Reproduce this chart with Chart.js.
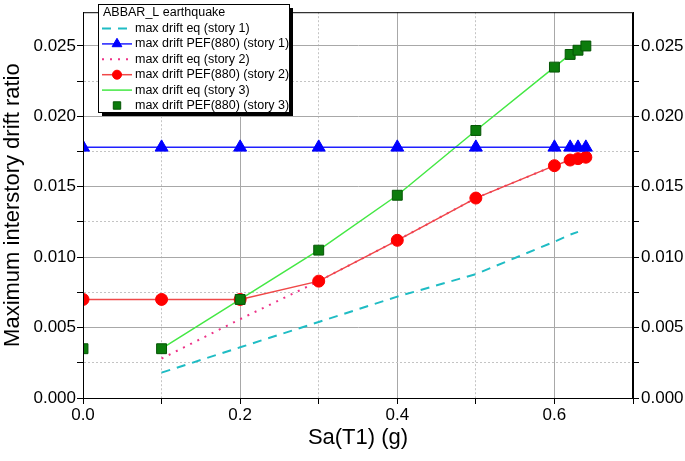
<!DOCTYPE html>
<html>
<head>
<meta charset="utf-8">
<script src="https://cdn.jsdelivr.net/npm/chart.js@4"></script>
<style>
  html, body { margin: 0; padding: 0; background: #fff; }
  #wrap { width: 685px; height: 461px; }
</style>
</head>
<body>
<div id="wrap"><canvas id="driftChart" width="685" height="461"></canvas></div>
<script>
// Data
const saPef = [0, 0.1, 0.2, 0.3, 0.4, 0.5, 0.6, 0.62, 0.63, 0.64];
const saEq = [0.1, 0.2, 0.3, 0.4, 0.5, 0.6, 0.62, 0.63, 0.64];

const eqStory1 = [0.0018, 0.0036, 0.0054, 0.0072, 0.0088, 0.0111, 0.0116, 0.0118, null];
const pefStory1 = [0.0178, 0.0178, 0.0178, 0.0178, 0.0178, 0.0178, 0.0178, 0.0178, 0.0178, 0.0178];
const eqStory2 = [0.0028, 0.0056, 0.0083, 0.0112, 0.0142, 0.0165, 0.0169, 0.0170, 0.0171];
const pefStory2 = [0.0070, 0.0070, 0.0070, 0.0083, 0.0112, 0.0142, 0.0165, 0.0169, 0.0170, 0.0171];
const eqStory3 = [0.0035, 0.0070, 0.0105, 0.0144, 0.0190, 0.0235, 0.0244, 0.0247, 0.0250];
const pefStory3 = [0.0035, 0.0035, 0.0070, 0.0105, 0.0144, 0.0190, 0.0235, 0.0244, 0.0247, 0.0250];

const seriesNames = [
    'max drift eq (story 1)',
    'max drift PEF(880) (story 1)',
    'max drift eq (story 2)',
    'max drift PEF(880) (story 2)',
    'max drift eq (story 3)',
    'max drift PEF(880) (story 3)'
];
const legendTitle = 'ABBAR_L earthquake';
const xTicks = [0, 0.1, 0.2, 0.3, 0.4, 0.5, 0.6, 0.7];
const yTicks = [0, 0.0025, 0.005, 0.0075, 0.01, 0.0125, 0.015, 0.0175, 0.02, 0.0225, 0.025];

const FONT = "'Liberation Sans', Arial, sans-serif";

function pairs(xs, ys) {
    return xs.map((x, i) => ({ x: x, y: ys[i] }));
}

const isMajorX = v => Math.round(v * 10) % 2 === 0;
const isMajorY = v => Math.abs(v / 0.005 - Math.round(v / 0.005)) < 1e-6;

// grid styling shared by both directions
function gridColor(major) {
    return ctx => (ctx.tick && !major(ctx.tick.value)) ? '#c4c4c4' : '#a8a8a8';
}
function gridDash(major) {
    return ctx => (ctx.tick && !major(ctx.tick.value)) ? [2, 2] : [];
}

// frame + legend drawn on top of the plot
const framePlugin = {
    id: 'frameAndLegend',
    afterDraw(chart) {
        const { ctx, chartArea: a } = chart;
        ctx.save();
        ctx.strokeStyle = '#000';
        ctx.lineWidth = 1;
        ctx.strokeRect(a.left + 0.5, a.top + 0.5, a.right - a.left - 1, a.bottom - a.top);

        // legend box with shadow
        const bx = 98, by = 4, bw = 191, bh = 108;
        ctx.fillStyle = '#000';
        ctx.fillRect(bx + 4, by + 4, bw, bh);
        ctx.fillStyle = '#fff';
        ctx.fillRect(bx, by, bw, bh);
        ctx.strokeRect(bx + 0.5, by + 0.5, bw, bh);

        ctx.font = '12.5px ' + FONT;
        ctx.textBaseline = 'middle';
        ctx.fillStyle = '#000';
        ctx.fillText(legendTitle, 103, 13);

        chart.data.datasets.forEach((ds, i) => {
            const y = 28.5 + i * 15.4;
            const x0 = 102, x1 = 132, xm = 117;
            if (ds.showLine !== false) {
                ctx.save();
                ctx.strokeStyle = ds.borderColor;
                ctx.lineWidth = ds.borderWidth;
                ctx.setLineDash(ds.borderDash || []);
                ctx.beginPath();
                ctx.moveTo(x0, y);
                ctx.lineTo(x1, y);
                ctx.stroke();
                ctx.restore();
            }
            if (ds.pointRadius > 0) {
                ctx.save();
                ctx.fillStyle = ds.pointBackgroundColor;
                ctx.strokeStyle = ds.pointBorderColor;
                ctx.lineWidth = ds.pointBorderWidth;
                // legend symbols are drawn a bit smaller than in the plot
                Chart.helpers.drawPoint(ctx, {
                    pointStyle: ds.pointStyle,
                    radius: ds.pointRadius * 0.75,
                    rotation: 0,
                    borderWidth: ds.pointBorderWidth
                }, xm, y);
                ctx.restore();
            }
            ctx.fillStyle = '#000';
            ctx.fillText(ds.label, 135, y);
        });
        ctx.restore();
    }
};

const ctx = document.getElementById('driftChart').getContext('2d');
const driftChart = new Chart(ctx, {
    type: 'scatter',
    data: {
        datasets: [
            {
                label: seriesNames[0],
                data: pairs(saEq, eqStory1),
                showLine: true,
                borderColor: '#1fbcc4',
                borderWidth: 2,
                borderDash: [9, 7],
                pointRadius: 0,
                spanGaps: false,
                order: 2
            },
            {
                label: seriesNames[1],
                data: pairs(saPef, pefStory1),
                showLine: true,
                borderColor: '#2020ff',
                borderWidth: 1.5,
                pointStyle: 'triangle',
                pointRadius: 7.5,
                pointBackgroundColor: '#0000ff',
                pointBorderColor: '#0000ff',
                pointBorderWidth: 1,
                order: 1
            },
            {
                label: seriesNames[2],
                data: pairs(saEq, eqStory2),
                showLine: true,
                borderColor: '#ee3388',
                borderWidth: 2,
                borderDash: [2, 6],
                pointRadius: 0,
                order: 2
            },
            {
                label: seriesNames[3],
                data: pairs(saPef, pefStory2),
                showLine: true,
                borderColor: '#f04848',
                borderWidth: 1.5,
                pointStyle: 'circle',
                pointRadius: 6,
                pointBackgroundColor: '#ff0000',
                pointBorderColor: '#ff0000',
                pointBorderWidth: 1,
                order: 1
            },
            {
                label: seriesNames[4],
                data: pairs(saEq, eqStory3),
                showLine: true,
                borderColor: '#44e844',
                borderWidth: 1.5,
                pointRadius: 0,
                order: 2
            },
            {
                label: seriesNames[5],
                data: pairs(saPef, pefStory3),
                showLine: false,
                pointStyle: 'rect',
                pointRadius: 7,
                pointBackgroundColor: '#0c7c0c',
                pointBorderColor: '#055505',
                pointBorderWidth: 1,
                order: 0
            }
        ]
    },
    options: {
        responsive: false,
        animation: false,
        clip: 0,
        layout: { padding: { top: 3, left: 0, right: 0, bottom: 0 } },
        plugins: {
            legend: { display: false },
            tooltip: { enabled: false }
        },
        scales: {
            x: {
                type: 'linear',
                min: 0,
                max: 0.7,
                afterBuildTicks: s => { s.ticks = xTicks.map(v => ({ value: v })); },
                afterFit: s => { s.height = 63; },
                ticks: {
                    color: '#000',
                    font: { size: 17, family: FONT },
                    padding: 1,
                    maxRotation: 0,
                    autoSkip: false,
                    callback: v => isMajorX(v) ? v.toFixed(1) : ''
                },
                grid: {
                    color: gridColor(isMajorX),
                    tickColor: '#000',
                    tickLength: 6,
                    tickBorderDash: []
                },
                border: { color: '#000', dash: gridDash(isMajorX) },
                title: {
                    display: true,
                    text: 'Sa(T1) (g)',
                    color: '#000',
                    font: { size: 22, family: FONT },
                    padding: { top: 2, bottom: 10 }
                }
            },
            y: {
                type: 'linear',
                position: 'left',
                min: 0,
                max: 0.0274,
                afterBuildTicks: s => { s.ticks = yTicks.map(v => ({ value: v })); },
                afterFit: s => { s.width = 83; },
                ticks: {
                    color: '#000',
                    font: { size: 17, family: FONT },
                    padding: 1,
                    autoSkip: false,
                    callback: v => isMajorY(v) ? v.toFixed(3) : ''
                },
                grid: {
                    color: gridColor(isMajorY),
                    tickColor: '#000',
                    tickLength: 6,
                    tickBorderDash: []
                },
                border: { color: '#000', dash: gridDash(isMajorY) },
                title: {
                    display: true,
                    text: 'Maximum interstory drift ratio',
                    color: '#000',
                    font: { size: 22, family: FONT },
                    padding: { top: 0, bottom: 2 }
                }
            },
            y2: {
                type: 'linear',
                position: 'right',
                min: 0,
                max: 0.0274,
                afterBuildTicks: s => { s.ticks = yTicks.map(v => ({ value: v })); },
                afterFit: s => { s.width = 52; },
                ticks: {
                    color: '#000',
                    font: { size: 17, family: FONT },
                    padding: 2,
                    autoSkip: false,
                    callback: v => isMajorY(v) ? v.toFixed(3) : ''
                },
                grid: {
                    drawOnChartArea: false,
                    tickColor: '#000',
                    tickLength: 6
                },
                border: { color: '#000' }
            }
        }
    },
    plugins: [framePlugin]
});
</script>
</body>
</html>
